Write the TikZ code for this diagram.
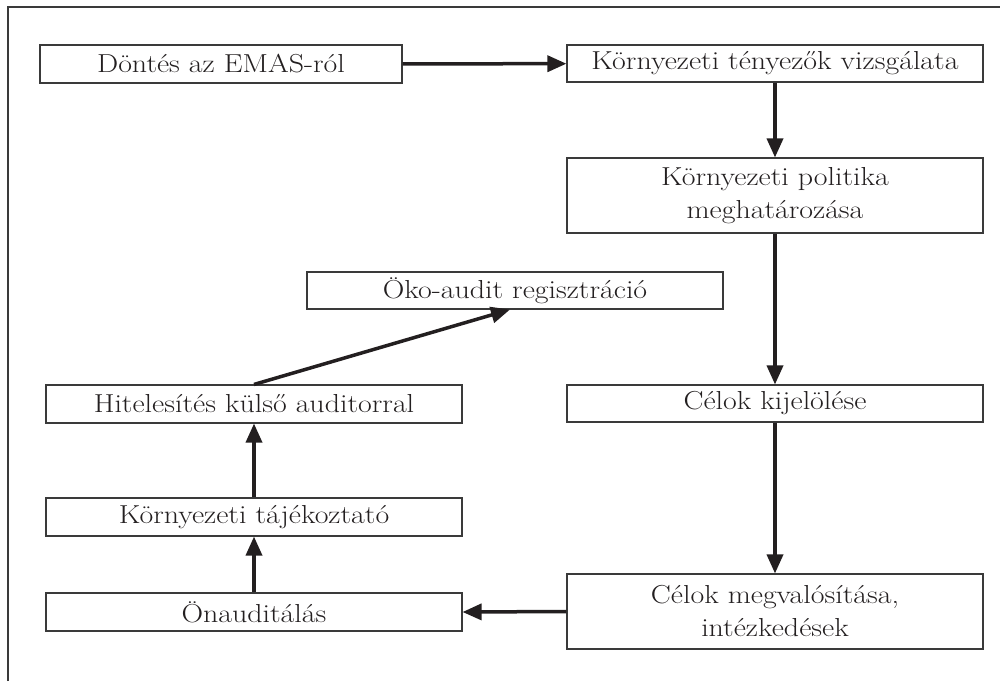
\documentclass[tikz,border=0pt]{standalone}
\usepackage{fontspec}
\newfontfamily\boxfont{Latin Modern Roman}[FakeStretch=1.15]
\usetikzlibrary{arrows.meta}
\definecolor{ink}{HTML}{231F20}
\definecolor{frame}{HTML}{3A3A3A}
\tikzset{
  box/.style={draw=frame, line width=1.1pt, fill=white, rectangle, inner sep=0pt,
    minimum width=416pt, minimum height=37pt, align=center, text=ink,
    font={\boxfont\fontsize{26}{33}\selectfont}},
  flow/.style={draw=ink, line width=3.5pt, -{Triangle[length=19pt,width=16pt]}}
}
\begin{document}
\begin{tikzpicture}[x=1pt,y=-1pt]
\useasboundingbox (0,0) rectangle (1007,681);
\coordinate (fa) at (8,681);
\coordinate (fb) at (8,7);
\coordinate (fc) at (1000,7);
\draw[frame, line width=1.1pt] (fa) -- (fb) -- (fc);

\node[box, minimum width=362pt, minimum height=38pt] (d) at (221,64) {Döntés az EMAS-ról};
\node[box] (t) at (775,63.5) {Környezeti tényezők vizsgálata};
\node[box, minimum height=75pt] (p) at (775,195.5) {Környezeti politika\\meghatározása};
\node[box] (ck) at (775,403.5) {Célok kijelölése};
\node[box, minimum height=75pt] (cm) at (775,611.5) {Célok megvalósítása,\\intézkedések};
\node[box, minimum height=38pt] (on) at (254,612) {Önauditálás};
\node[box, minimum height=38pt] (kt) at (254,517) {Környezeti tájékoztató};
\node[box, minimum height=38pt] (hk) at (254,404) {Hitelesítés külső auditorral};
\node[box] (oko) at (515,290.5) {Öko-audit regisztráció};

\draw[flow] (d) -- (t);
\draw[flow] (t) -- (p);
\draw[flow] (p) -- (ck);
\draw[flow] (ck) -- (cm);
\draw[flow] (cm.west) -- (on.east);
\draw[flow] (on) -- (kt);
\draw[flow] (kt) -- (hk);
\draw[flow] (hk.north) -- ([xshift=-5pt]oko.south);
\end{tikzpicture}
\end{document}
